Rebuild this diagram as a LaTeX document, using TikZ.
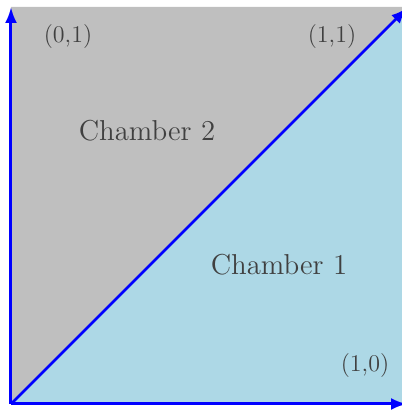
\documentclass[tikz,border=0pt]{standalone}
\usepackage{tikz}
\usetikzlibrary{arrows.meta}
\definecolor{lightblue}{RGB}{173,216,230}

\begin{document}
\begin{tikzpicture}[x=0.5pt, y=0.5pt,
    axis/.style={-{Latex[length=8pt,width=6pt]}, blue, line width=1.5pt},
    lbl/.style={font=\large, text=black!75},
    chamber/.style={font=\Large, text=black!75}
]
    \useasboundingbox (-11,-9) rectangle (391,404);
    \clip (-11,-9) rectangle (391,404);

    % the two chambers
    \fill[gray!50] (0,0) -- (0,397) -- (400,397) -- cycle;
    \fill[lightblue] (0,0) -- (400,397) -- (400,0) -- cycle;

    \coordinate (o) at (0,0);
    \coordinate (xend) at (396,0);
    \coordinate (yend) at (0,397);
    \coordinate (dend) at (396,396);

    \node[lbl] (p01) at (57,367) {(0,1)};
    \node[lbl] (p11) at (321,367) {(1,1)};
    \node[lbl] (p10) at (354,38) {(1,0)};
    \node[chamber] (ch2) at (136,273) {Chamber 2};
    \node[chamber] (ch1) at (268,139) {Chamber 1};

    \draw[axis] (o) -- (xend);
    \draw[axis] (o) -- (yend);
    \draw[axis, line width=1.3pt] (o) -- (dend);
\end{tikzpicture}
\end{document}
